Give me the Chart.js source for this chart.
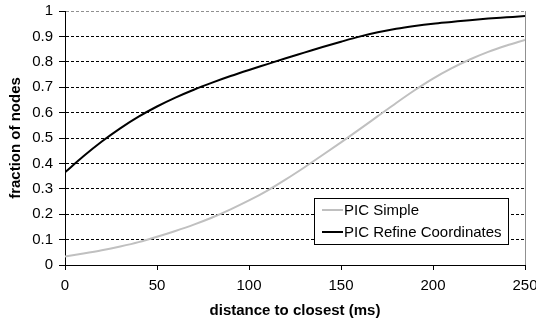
<!DOCTYPE html>
<html>
<head>
<meta charset="utf-8">
<script src="https://cdn.jsdelivr.net/npm/chart.js@4"></script>
<style>
  html, body { margin: 0; padding: 0; background: #fff; }
  #box { width: 536px; height: 325px; }
</style>
</head>
<body>
<div id="box"><canvas id="grafico"></canvas></div>
<script>
// valores
const distancias = [0, 10, 20, 30, 40, 50, 60, 70, 80, 90, 100, 110, 120, 130, 140, 150, 160, 170, 180, 190, 200, 210, 220, 230, 240, 250];
const picSimple = [0.033, 0.045, 0.058, 0.073, 0.09, 0.111, 0.134, 0.159, 0.187, 0.219, 0.254, 0.293, 0.337, 0.384, 0.433, 0.483, 0.534, 0.586, 0.638, 0.688, 0.734, 0.774, 0.809, 0.839, 0.864, 0.886];
const picRefine = [0.365, 0.428, 0.486, 0.538, 0.584, 0.624, 0.659, 0.69, 0.718, 0.744, 0.768, 0.791, 0.814, 0.836, 0.858, 0.879, 0.899, 0.916, 0.93, 0.941, 0.95, 0.957, 0.964, 0.97, 0.975, 0.98];
const nomesSeries = ['PIC Simple', 'PIC Refine Coordinates'];
const coresSeries = ['#c0c0c0', '#000000'];
const ticksX = [0, 50, 100, 150, 200, 250];

const pontos = (ys) => ys.map((y, i) => ({ x: distancias[i], y: y }));

Chart.defaults.font.family = '"Liberation Sans", Arial, sans-serif';
Chart.defaults.font.size = 15;
Chart.defaults.color = '#000';

// legenda desenhada dentro da área do gráfico
const legendaInterna = {
    id: 'legendaInterna',
    afterDraw(chart) {
        const ctx = chart.ctx;
        const area = chart.chartArea;
        const w = 194, h = 46;
        const x = area.right - 17 - w;
        const y = area.bottom - 21 - h;
        ctx.save();
        ctx.fillStyle = '#fff';
        ctx.fillRect(x, y, w, h);
        ctx.strokeStyle = '#000';
        ctx.lineWidth = 1;
        ctx.strokeRect(x + 0.5, y + 0.5, w, h);
        ctx.font = '15px "Liberation Sans", Arial, sans-serif';
        ctx.textBaseline = 'middle';
        chart.data.datasets.forEach((ds, i) => {
            const ly = y + 12 + i * 22;
            ctx.strokeStyle = ds.borderColor;
            ctx.lineWidth = 2;
            ctx.beginPath();
            ctx.moveTo(x + 8, ly);
            ctx.lineTo(x + 29, ly);
            ctx.stroke();
            ctx.fillStyle = '#000';
            ctx.fillText(ds.label, x + 30, ly + 1);
        });
        ctx.restore();
    }
};

new Chart(document.getElementById('grafico'), {
    type: 'line',
    data: {
        datasets: [
            { label: nomesSeries[0], data: pontos(picSimple), borderColor: coresSeries[0], borderWidth: 2, pointRadius: 0, cubicInterpolationMode: 'monotone', fill: false },
            { label: nomesSeries[1], data: pontos(picRefine), borderColor: coresSeries[1], borderWidth: 2, pointRadius: 0, cubicInterpolationMode: 'monotone', fill: false }
        ]
    },
    options: {
        responsive: true,
        maintainAspectRatio: false,
        animation: false,
        layout: { padding: { top: 11, right: 11, left: 0, bottom: 0 } },
        plugins: {
            legend: { display: false },
            tooltip: { enabled: false }
        },
        scales: {
            x: {
                type: 'linear',
                min: 0,
                max: 250,
                afterBuildTicks: (s) => { s.ticks = ticksX.map(v => ({ value: v })); },
                afterFit: (s) => { s.height = 60; s.paddingLeft = 0; s.paddingRight = 0; },
                ticks: { padding: 7, maxRotation: 0, autoSkip: false },
                grid: {
                    color: (c) => c.tick && c.tick.value === 250 ? '#909090' : 'rgba(0,0,0,0)',
                    tickColor: '#000',
                    tickLength: 5
                },
                border: { color: '#000', width: 1 },
                title: { display: true, text: 'distance to closest (ms)', font: { weight: 'bold', size: 15 }, padding: { top: 0, bottom: 5 } }
            },
            y: {
                min: 0,
                max: 1,
                ticks: {
                    stepSize: 0.1,
                    padding: 6,
                    callback: (v) => String(Math.round(v * 10) / 10)
                },
                afterFit: (s) => { s.width = 65; s.paddingTop = 0; s.paddingBottom = 0; },
                grid: {
                    color: (c) => c.tick && c.tick.value === 1 ? '#909090' : '#000',
                    tickColor: '#000',
                    tickLength: 6
                },
                border: { color: '#000', width: 1, dash: [3, 2] },
                title: { display: true, text: 'fraction of nodes', font: { weight: 'bold', size: 15 }, padding: { top: 7, bottom: 0 } }
            }
        }
    },
    plugins: [legendaInterna]
});
</script>
</body>
</html>
